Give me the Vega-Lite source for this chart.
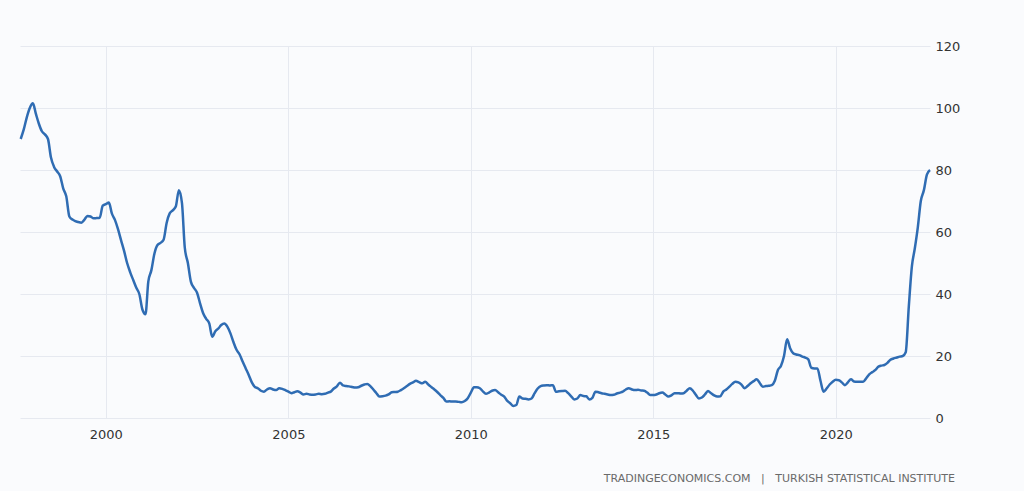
{
  "$schema": "https://vega.github.io/schema/vega-lite/v6.json",
  "width": 910,
  "height": 372,
  "autosize": {"type": "none"},
  "padding": {"left": 20, "top": 46, "right": 94, "bottom": 73},
  "background": "#fafbfd",
  "config": {"view": {"stroke": null}, "font": "DejaVu Sans"},
  "title": {"text": "TRADINGECONOMICS.COM\u00a0\u00a0\u00a0|\u00a0\u00a0\u00a0TURKISH STATISTICAL INSTITUTE", "orient": "bottom", "anchor": "end", "frame": "group", "dx": 25, "offset": 32, "fontSize": 11, "fontWeight": "normal", "color": "#6a6a6a", "font": "DejaVu Sans"},
  "data": {
    "format": {"parse": {"d": "utc:'%Y-%m'"}},
    "values": [
      {"d":"1997-09","v":90},{"d":"1997-10","v":93},{"d":"1997-11","v":97},{"d":"1997-12","v":100},
      {"d":"1998-01","v":101.5},{"d":"1998-02","v":98},{"d":"1998-03","v":95},{"d":"1998-04","v":92.5},{"d":"1998-05","v":91.5},{"d":"1998-06","v":90},{"d":"1998-07","v":84},{"d":"1998-08","v":81},{"d":"1998-09","v":79.5},{"d":"1998-10","v":78},{"d":"1998-11","v":74},{"d":"1998-12","v":71.5},
      {"d":"1999-01","v":65},{"d":"1999-02","v":64},{"d":"1999-03","v":63.5},{"d":"1999-04","v":63.2},{"d":"1999-05","v":63},{"d":"1999-06","v":64},{"d":"1999-07","v":65.2},{"d":"1999-08","v":65},{"d":"1999-09","v":64.4},{"d":"1999-10","v":64.5},{"d":"1999-11","v":64.6},{"d":"1999-12","v":68.5},
      {"d":"2000-01","v":69},{"d":"2000-02","v":69.5},{"d":"2000-03","v":66},{"d":"2000-04","v":63.9},{"d":"2000-05","v":61},{"d":"2000-06","v":57.4},{"d":"2000-07","v":54},{"d":"2000-08","v":50},{"d":"2000-09","v":47},{"d":"2000-10","v":44.5},{"d":"2000-11","v":42},{"d":"2000-12","v":40},
      {"d":"2001-01","v":35},{"d":"2001-02","v":33.5},{"d":"2001-03","v":44},{"d":"2001-04","v":47.7},{"d":"2001-05","v":53},{"d":"2001-06","v":55.8},{"d":"2001-07","v":56.5},{"d":"2001-08","v":57.5},{"d":"2001-09","v":63},{"d":"2001-10","v":66},{"d":"2001-11","v":67},{"d":"2001-12","v":68.2},
      {"d":"2002-01","v":73.5},{"d":"2002-02","v":69.3},{"d":"2002-03","v":55},{"d":"2002-04","v":50},{"d":"2002-05","v":44},{"d":"2002-06","v":42},{"d":"2002-07","v":40.5},{"d":"2002-08","v":37},{"d":"2002-09","v":33.8},{"d":"2002-10","v":32},{"d":"2002-11","v":30.5},{"d":"2002-12","v":26.2},
      {"d":"2003-01","v":28},{"d":"2003-02","v":28.9},{"d":"2003-03","v":30},{"d":"2003-04","v":30.5},{"d":"2003-05","v":29.5},{"d":"2003-06","v":27.3},{"d":"2003-07","v":24.5},{"d":"2003-08","v":22},{"d":"2003-09","v":20.5},{"d":"2003-10","v":18.2},{"d":"2003-11","v":16},{"d":"2003-12","v":13.9},
      {"d":"2004-01","v":11.5},{"d":"2004-02","v":10},{"d":"2004-03","v":9.6},{"d":"2004-04","v":8.8},{"d":"2004-05","v":8.5},{"d":"2004-06","v":9.2},{"d":"2004-07","v":9.6},{"d":"2004-08","v":9.2},{"d":"2004-09","v":9.0},{"d":"2004-10","v":9.6},{"d":"2004-11","v":9.4},{"d":"2004-12","v":9.0},
      {"d":"2005-01","v":8.5},{"d":"2005-02","v":8.0},{"d":"2005-03","v":8.3},{"d":"2005-04","v":8.6},{"d":"2005-05","v":8.2},{"d":"2005-06","v":7.6},{"d":"2005-07","v":7.8},{"d":"2005-08","v":7.6},{"d":"2005-09","v":7.5},{"d":"2005-10","v":7.6},{"d":"2005-11","v":7.8},{"d":"2005-12","v":7.7},
      {"d":"2006-01","v":7.8},{"d":"2006-02","v":8.2},{"d":"2006-03","v":8.5},{"d":"2006-04","v":9.5},{"d":"2006-05","v":10.2},{"d":"2006-06","v":11.4},{"d":"2006-07","v":10.5},{"d":"2006-08","v":10.3},{"d":"2006-09","v":10.2},{"d":"2006-10","v":10},{"d":"2006-11","v":9.8},{"d":"2006-12","v":9.9},
      {"d":"2007-01","v":10.4},{"d":"2007-02","v":10.8},{"d":"2007-03","v":11.0},{"d":"2007-04","v":10.3},{"d":"2007-05","v":9.2},{"d":"2007-06","v":8.0},{"d":"2007-07","v":6.9},{"d":"2007-08","v":7.0},{"d":"2007-09","v":7.2},{"d":"2007-10","v":7.6},{"d":"2007-11","v":8.3},{"d":"2007-12","v":8.4},
      {"d":"2008-01","v":8.5},{"d":"2008-02","v":9.0},{"d":"2008-03","v":9.6},{"d":"2008-04","v":10.3},{"d":"2008-05","v":11.0},{"d":"2008-06","v":11.5},{"d":"2008-07","v":12.0},{"d":"2008-08","v":11.6},{"d":"2008-09","v":11.2},{"d":"2008-10","v":11.7},{"d":"2008-11","v":10.8},{"d":"2008-12","v":10.0},
      {"d":"2009-01","v":9.2},{"d":"2009-02","v":8.3},{"d":"2009-03","v":7.4},{"d":"2009-04","v":6.5},{"d":"2009-05","v":5.3},{"d":"2009-06","v":5.4},{"d":"2009-07","v":5.3},{"d":"2009-08","v":5.3},{"d":"2009-09","v":5.2},{"d":"2009-10","v":5.1},{"d":"2009-11","v":5.5},{"d":"2009-12","v":6.4},
      {"d":"2010-01","v":8.2},{"d":"2010-02","v":9.9},{"d":"2010-03","v":9.9},{"d":"2010-04","v":9.6},{"d":"2010-05","v":8.6},{"d":"2010-06","v":7.8},{"d":"2010-07","v":8.2},{"d":"2010-08","v":8.8},{"d":"2010-09","v":9.0},{"d":"2010-10","v":8.3},{"d":"2010-11","v":7.5},{"d":"2010-12","v":6.9},
      {"d":"2011-01","v":5.5},{"d":"2011-02","v":4.7},{"d":"2011-03","v":3.9},{"d":"2011-04","v":4.2},{"d":"2011-05","v":6.9},{"d":"2011-06","v":6.3},{"d":"2011-07","v":6.2},{"d":"2011-08","v":6.0},{"d":"2011-09","v":6.3},{"d":"2011-10","v":8.0},{"d":"2011-11","v":9.5},{"d":"2011-12","v":10.3},
      {"d":"2012-01","v":10.5},{"d":"2012-02","v":10.6},{"d":"2012-03","v":10.5},{"d":"2012-04","v":10.6},{"d":"2012-05","v":8.5},{"d":"2012-06","v":8.6},{"d":"2012-07","v":8.7},{"d":"2012-08","v":8.8},{"d":"2012-09","v":8.0},{"d":"2012-10","v":7.0},{"d":"2012-11","v":6.0},{"d":"2012-12","v":6.3},
      {"d":"2013-01","v":7.4},{"d":"2013-02","v":7.1},{"d":"2013-03","v":7.0},{"d":"2013-04","v":6.0},{"d":"2013-05","v":6.5},{"d":"2013-06","v":8.5},{"d":"2013-07","v":8.3},{"d":"2013-08","v":8.0},{"d":"2013-09","v":7.8},{"d":"2013-10","v":7.6},{"d":"2013-11","v":7.4},{"d":"2013-12","v":7.5},
      {"d":"2014-01","v":7.9},{"d":"2014-02","v":8.2},{"d":"2014-03","v":8.5},{"d":"2014-04","v":9.2},{"d":"2014-05","v":9.6},{"d":"2014-06","v":9.2},{"d":"2014-07","v":9.0},{"d":"2014-08","v":9.1},{"d":"2014-09","v":8.9},{"d":"2014-10","v":8.8},{"d":"2014-11","v":8.2},{"d":"2014-12","v":7.4},
      {"d":"2015-01","v":7.4},{"d":"2015-02","v":7.6},{"d":"2015-03","v":8.0},{"d":"2015-04","v":8.2},{"d":"2015-05","v":7.6},{"d":"2015-06","v":6.9},{"d":"2015-07","v":7.3},{"d":"2015-08","v":8.0},{"d":"2015-09","v":8.0},{"d":"2015-10","v":7.9},{"d":"2015-11","v":8.0},{"d":"2015-12","v":8.8},
      {"d":"2016-01","v":9.6},{"d":"2016-02","v":8.8},{"d":"2016-03","v":7.5},{"d":"2016-04","v":6.3},{"d":"2016-05","v":6.6},{"d":"2016-06","v":7.6},{"d":"2016-07","v":8.7},{"d":"2016-08","v":8.0},{"d":"2016-09","v":7.3},{"d":"2016-10","v":6.9},{"d":"2016-11","v":7.0},{"d":"2016-12","v":8.5},
      {"d":"2017-01","v":9.2},{"d":"2017-02","v":10.1},{"d":"2017-03","v":11.0},{"d":"2017-04","v":11.7},{"d":"2017-05","v":11.5},{"d":"2017-06","v":10.8},{"d":"2017-07","v":9.6},{"d":"2017-08","v":10.3},{"d":"2017-09","v":11.2},{"d":"2017-10","v":11.9},{"d":"2017-11","v":12.5},{"d":"2017-12","v":11.3},
      {"d":"2018-01","v":10.1},{"d":"2018-02","v":10.3},{"d":"2018-03","v":10.4},{"d":"2018-04","v":10.6},{"d":"2018-05","v":12.0},{"d":"2018-06","v":15.5},{"d":"2018-07","v":16.8},{"d":"2018-08","v":20.0},{"d":"2018-09","v":25.4},{"d":"2018-10","v":22.5},{"d":"2018-11","v":20.9},{"d":"2018-12","v":20.5},
      {"d":"2019-01","v":20.3},{"d":"2019-02","v":19.8},{"d":"2019-03","v":19.5},{"d":"2019-04","v":18.9},{"d":"2019-05","v":16.2},{"d":"2019-06","v":16.0},{"d":"2019-07","v":16.0},{"d":"2019-08","v":12.0},{"d":"2019-09","v":8.5},{"d":"2019-10","v":9.5},{"d":"2019-11","v":10.8},{"d":"2019-12","v":11.7},
      {"d":"2020-01","v":12.3},{"d":"2020-02","v":12.2},{"d":"2020-03","v":11.5},{"d":"2020-04","v":10.6},{"d":"2020-05","v":11.5},{"d":"2020-06","v":12.5},{"d":"2020-07","v":11.8},{"d":"2020-08","v":11.7},{"d":"2020-09","v":11.7},{"d":"2020-10","v":11.7},{"d":"2020-11","v":12.8},{"d":"2020-12","v":14.1},
      {"d":"2021-01","v":14.8},{"d":"2021-02","v":15.5},{"d":"2021-03","v":16.5},{"d":"2021-04","v":16.9},{"d":"2021-05","v":17.1},{"d":"2021-06","v":17.8},{"d":"2021-07","v":18.8},{"d":"2021-08","v":19.2},{"d":"2021-09","v":19.5},{"d":"2021-10","v":19.8},{"d":"2021-11","v":20.0},{"d":"2021-12","v":21.2},
      {"d":"2022-01","v":36},{"d":"2022-02","v":49},{"d":"2022-03","v":54.5},{"d":"2022-04","v":61.5},{"d":"2022-05","v":70},{"d":"2022-06","v":73.5},{"d":"2022-07","v":78.5},{"d":"2022-08","v":80}
    ]
  },
  "mark": {"type": "line", "color": "#2f6cb3", "strokeWidth": 2.5, "interpolate": "monotone"},
  "encoding": {
    "x": {
      "field": "d", "type": "temporal",
      "scale": {"type": "utc", "domain": [{"year": 1997, "month": 8, "date": 25, "utc": true}, {"year": 2022, "month": 8, "date": 1, "utc": true}]},
      "axis": {
        "title": null, "format": "%Y", "formatType": "utc",
        "values": [{"year": 2000, "utc": true}, {"year": 2005, "utc": true}, {"year": 2010, "utc": true}, {"year": 2015, "utc": true}, {"year": 2020, "utc": true}],
        "domain": false, "ticks": false, "grid": true, "gridColor": "#e6e9f0", "gridWidth": 1,
        "labelPadding": 10, "labelFontSize": 13, "labelColor": "#333333", "labelFont": "DejaVu Sans"
      }
    },
    "y": {
      "field": "v", "type": "quantitative",
      "scale": {"domain": [0, 120], "nice": false, "zero": true},
      "axis": {
        "title": null, "orient": "right", "values": [0, 20, 40, 60, 80, 100, 120],
        "domain": false, "ticks": false, "grid": true, "gridColor": "#e6e9f0", "gridWidth": 1,
        "labelPadding": 5, "labelFontSize": 13, "labelColor": "#333333", "labelFont": "DejaVu Sans"
      }
    }
  }
}
